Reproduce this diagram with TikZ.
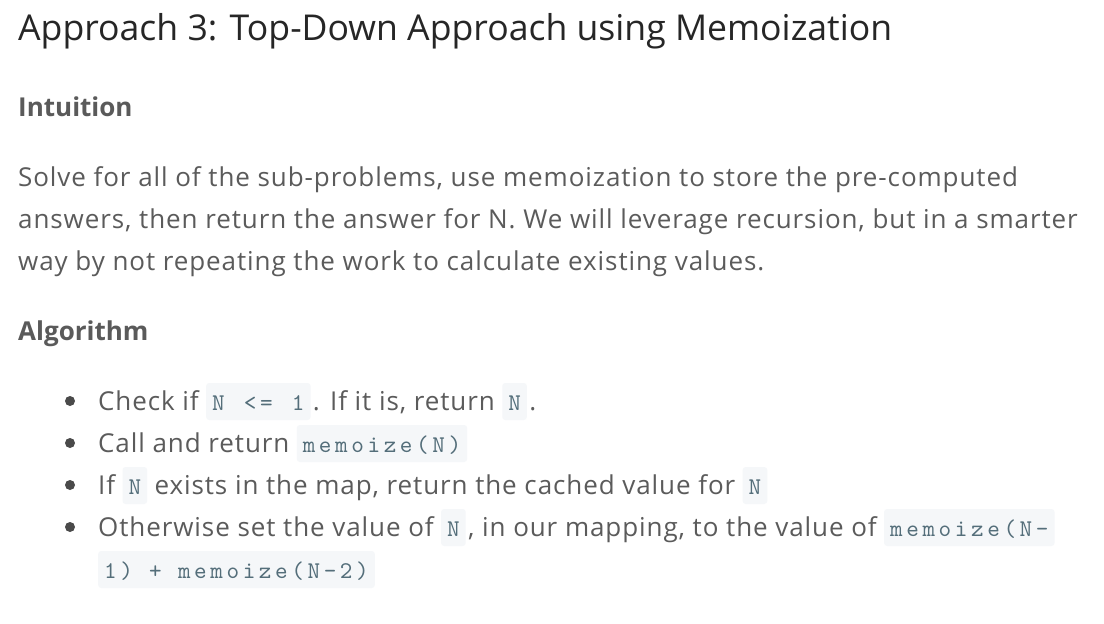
\documentclass[tikz,border=0pt]{standalone}
\usepackage{fontspec}
\setmainfont{Open Sans}
\setmonofont{lmmono10-regular}[Extension=.otf, LetterSpace=15]
\usepackage{xcolor}
\usetikzlibrary{positioning}
\definecolor{titleink}{HTML}{262626}
\definecolor{bodyink}{HTML}{5B5B5B}
\definecolor{headink}{HTML}{5A5A5A}
\definecolor{codeink}{HTML}{546E7A}
\definecolor{codebg}{HTML}{F5F7F9}
\definecolor{dotink}{HTML}{4A4A4A}
\tikzstyle{title} = [inner sep=0pt, anchor=base west, text=titleink, font=\fontsize{35.6}{40}\selectfont]
\tikzstyle{head} = [inner sep=0pt, anchor=base west, text=headink, font=\fontsize{26}{30}\selectfont\bfseries]
\tikzstyle{txt} = [inner sep=0pt, anchor=base west, text=bodyink, font=\fontsize{26}{30}\selectfont\addfontfeature{LetterSpace=3.5}]
\tikzstyle{code} = [inner xsep=6pt, inner ysep=0pt, text height=27pt, text depth=10pt, rounded corners=3pt, fill=codebg, text=codeink, font=\fontsize{24}{28}\selectfont\ttfamily]
\tikzstyle{dot} = [circle, fill=dotink, inner sep=0pt, minimum size=10pt]

\begin{document}
\begin{tikzpicture}[x=1pt, y=-1pt]
	\useasboundingbox (0,0) rectangle (1104,624);
	\fill[white] (0,0) rectangle (1104,624);
	
	\node (Heading) [title] at (18,40) {Approach 3: Top-Down Approach using Memoization};
	\node (Intuition) [head] at (18,116) {Intuition};
	\node (Para1) [txt] at (18,186) {Solve for all of the sub-problems, use memoization to store the pre-computed};
	\node (Para2) [txt] at (18,228) {answers, then return the answer for N. We will leverage recursion, but in a smarter};
	\node (Para3) [txt] at (18,270) {way by not repeating the work to calculate existing values.};
	\node (Algorithm) [head] at (18,340) {Algorithm};
	
	% bullet 1
	\node (Dot1) [dot] at (70,401) {};
	\node (Check) [txt] at (98,410) {Check if};
	\node (CodeLeq) [code, base right=7pt of Check] {N\kern3pt{} <=\kern3pt{} 1};
	\node (IfIs) [txt, base right=2pt of CodeLeq] {. If it is, return};
	\node (CodeN1) [code, base right=7pt of IfIs] {N};
	\node (Stop1) [txt, base right=2pt of CodeN1] {.};
	
	% bullet 2
	\node (Dot2) [dot] at (70,443) {};
	\node (Call) [txt] at (98,452) {Call and return};
	\node (CodeMemo) [code, base right=7pt of Call] {memoize(N)};
	
	% bullet 3
	\node (Dot3) [dot] at (70,485) {};
	\node (If) [txt] at (98,494) {If};
	\node (CodeN2) [code, base right=7pt of If] {N};
	\node (Exists) [txt, base right=7pt of CodeN2] {exists in the map, return the cached value for};
	\node (CodeN3) [code, base right=7pt of Exists] {N};
	
	% bullet 4
	\node (Dot4) [dot] at (70,527) {};
	\node (Otherwise) [txt] at (98,536) {Otherwise set the value of};
	\node (CodeN4) [code, base right=7pt of Otherwise] {N};
	\node (Mapping) [txt, base right=2pt of CodeN4] {, in our mapping, to the value of};
	\node (CodeRec1) [code, base right=7pt of Mapping] {memoize(N-};
	\node (CodeRec2) [code, anchor=base west] at (98,578) {1) + memoize(N-2)};
\end{tikzpicture}
\end{document}
